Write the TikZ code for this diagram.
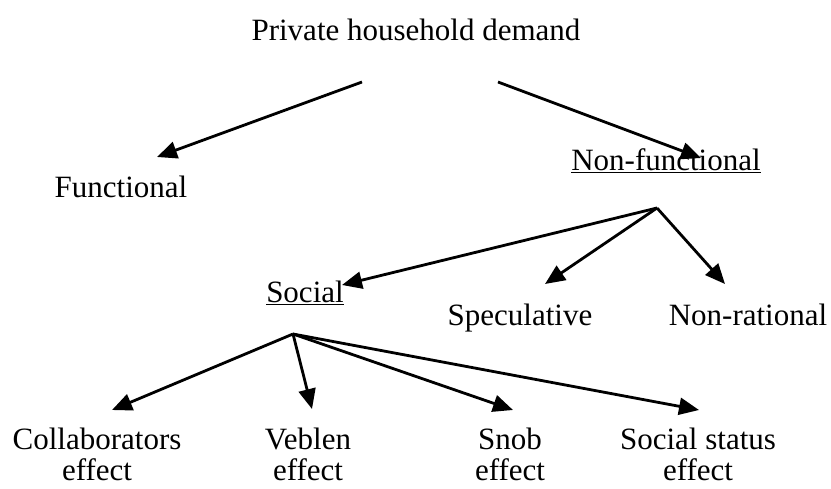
\documentclass[tikz,border=0pt]{standalone}
\usepackage{fontspec}
\setmainfont{Liberation Serif}
\usetikzlibrary{arrows.meta}

\begin{document}
\begin{tikzpicture}
          [x=1pt,y=-1pt,every node/.style={inner sep=0pt,align=center,font=\fontsize{31}{31}\selectfont},
           arr/.style={line width=2.8pt,-{Triangle[length=20pt,width=17pt]}}]

          \useasboundingbox (0,0) rectangle (831,488);

          \node[anchor=base] (phd) at (416, 40) {Private household demand};
          \node[anchor=base] (func) at (121, 197) {Functional};
          \node[anchor=base] (nonf) at (666, 170) {\underline{Non-functional}};
          \node[anchor=base] (soc) at (305, 302) {\underline{Social}};
          \node[anchor=base] (spec) at (520, 325) {Speculative};
          \node[anchor=base] (nonr) at (748, 325) {Non-rational};
          \node (coll) at (97, 454) {Collaborators\\effect};
          \node (vebl) at (308, 454) {Veblen\\effect};
          \node (snob) at (510, 454) {Snob\\effect};
          \node (stat) at (698, 454) {Social status\\effect};

          \coordinate (phd-l) at (362, 82);
          \coordinate (phd-r) at (498, 82);
          \coordinate (func-in) at (157, 157);
          \coordinate (nonf-in) at (701, 158);
          \coordinate (nonf-out) at (657, 208);
          \coordinate (soc-in) at (342, 285);
          \coordinate (spec-in) at (545, 284);
          \coordinate (nonr-in) at (725, 284);
          \coordinate (soc-out) at (293, 334);
          \coordinate (coll-in) at (112, 410);
          \coordinate (vebl-in) at (312, 409);
          \coordinate (snob-in) at (513, 410);
          \coordinate (stat-in) at (699, 410);

          \draw[arr] (phd-l) -- (func-in);
          \draw[arr] (phd-r) -- (nonf-in);
          \draw[arr] (nonf-out) -- (soc-in);
          \draw[arr] (nonf-out) -- (spec-in);
          \draw[arr] (nonf-out) -- (nonr-in);
          \draw[arr] (soc-out) -- (coll-in);
          \draw[arr] (soc-out) -- (vebl-in);
          \draw[arr] (soc-out) -- (snob-in);
          \draw[arr] (soc-out) -- (stat-in);
        \end{tikzpicture}
\end{document}
